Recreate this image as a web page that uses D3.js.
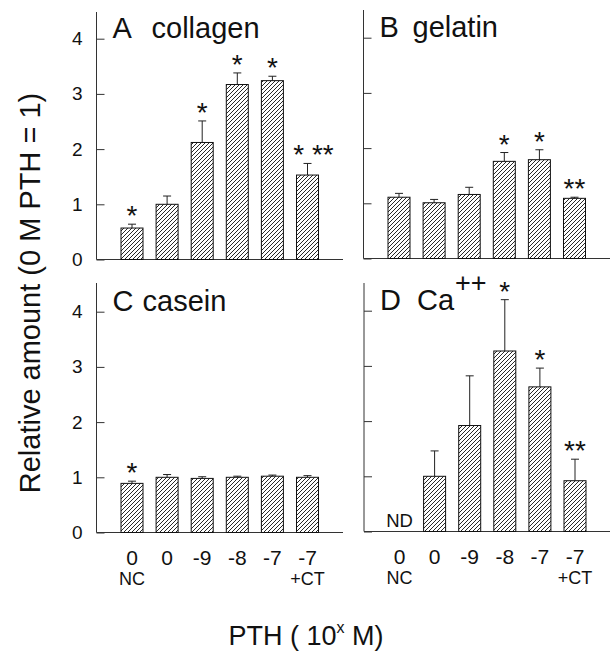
<!DOCTYPE html>
<html>
<head>
  <script src="https://cdn.jsdelivr.net/npm/d3@7"></script>
  <style>
    body { margin: 0; background: #fff; }
    text { font-family: "Liberation Sans", Arial, sans-serif; fill: #111; }
  </style>
</head>
<body>
<div id="chart"></div>
<script>
  // tick labels along the x axis (two rows)
  var tickTop = ["0", "0", "-9", "-8", "-7", "-7"];
  var tickBottom = ["NC", "", "", "", "", "+CT"];
  var groups = ["NC", "0", "-9", "-8", "-7", "CT"];

  // relative amounts (mean) and upper error (SD) per panel
  var collagen = [0.57, 1.00, 2.12, 3.17, 3.24, 1.53];
  var collagenErr = [0.07, 0.15, 0.39, 0.21, 0.08, 0.21];
  var collagenSig = ["*", "", "*", "*", "*", "* **"];

  var gelatin = [1.11, 1.01, 1.16, 1.76, 1.79, 1.09];
  var gelatinErr = [0.07, 0.06, 0.13, 0.16, 0.18, 0.02];
  var gelatinSig = ["", "", "", "*", "*", "**"];

  var casein = [0.89, 1.00, 0.98, 1.00, 1.02, 1.00];
  var caseinErr = [0.04, 0.05, 0.03, 0.02, 0.02, 0.03];
  var caseinSig = ["*", "", "", "", "", ""];

  var calcium = [null, 1.00, 1.92, 3.27, 2.62, 0.92];
  var calciumErr = [null, 0.46, 0.90, 0.93, 0.34, 0.39];
  var calciumSig = ["", "", "", "*", "*", "**"];

  var yTicks = [0, 1, 2, 3, 4];

  var svg = d3.select("#chart").append("svg")
      .attr("width", 613)
      .attr("height", 651);

  var defs = svg.append("defs");
  defs.append("pattern")
      .attr("id", "hatch")
      .attr("patternUnits", "userSpaceOnUse")
      .attr("width", 4)
      .attr("height", 4)
      .append("path")
      .attr("d", "M-1,1 l2,-2 M0,4 l4,-4 M3,5 l2,-2")
      .attr("stroke", "#111")
      .attr("stroke-width", 0.9);

  var panels = [
    {letter: "A", word: "collagen", wordDx: 39, values: collagen, err: collagenErr, sig: collagenSig,
     ax: 96.5, zero: 259.5, top: 12, right: 343, labels: true, xlabels: false},
    {letter: "B", word: "gelatin", wordDx: 33, values: gelatin, err: gelatinErr, sig: gelatinSig,
     ax: 363.5, zero: 258.5, top: 10, right: 610, labels: false, xlabels: false},
    {letter: "C", word: "casein", wordDx: 30, values: casein, err: caseinErr, sig: caseinSig,
     ax: 96.5, zero: 532.5, top: 283, right: 343, labels: true, xlabels: true},
    {letter: "D", word: "Ca", sup: "++", wordDx: 37, values: calcium, err: calciumErr, sig: calciumSig,
     ax: 364, zero: 531.5, top: 283, right: 610, labels: false, xlabels: true}
  ];

  var unit = 55.2;
  var barW = 22;

  panels.forEach(function(p) {
    var g = svg.append("g");

    var y = d3.scaleLinear()
        .domain([0, 4])
        .range([p.zero, p.zero - 4 * unit]);

    var x = d3.scalePoint()
        .domain(groups)
        .range([p.ax + 35.5, p.ax + 211]);

    // y axis, ticks pointing inward
    var yAxis = d3.axisLeft(y)
        .tickValues(yTicks)
        .tickSize(-8)
        .tickSizeOuter(0)
        .tickPadding(14)
        .tickFormat(p.labels ? d3.format("d") : "");

    var ya = g.append("g")
        .attr("transform", "translate(" + p.ax + ",0)")
        .call(yAxis);
    ya.select(".domain").remove();
    ya.selectAll(".tick line").attr("stroke", "#333");
    ya.selectAll(".tick text")
        .style("font-size", "19px")
        .style("font-family", "'Liberation Sans', Arial, sans-serif")
        .attr("fill", "#111");

    g.append("line")
        .attr("x1", p.ax).attr("x2", p.ax)
        .attr("y1", p.zero).attr("y2", p.top)
        .attr("stroke", "#333");
    g.append("line")
        .attr("x1", p.ax).attr("x2", p.right)
        .attr("y1", p.zero).attr("y2", p.zero)
        .attr("stroke", "#333");

    var rows = groups.map(function(k, i) {
      return {key: k, v: p.values[i], e: p.err[i], s: p.sig[i]};
    });
    var present = rows.filter(function(d) { return d.v != null; });

    // error bars (upper only)
    g.selectAll(".err").data(present).enter().append("path")
        .attr("d", function(d) {
          var cx = x(d.key), t = y(d.v + d.e);
          return "M" + cx + "," + y(d.v) + "V" + t + "M" + (cx - 4) + "," + t + "H" + (cx + 4);
        })
        .attr("fill", "none")
        .attr("stroke", "#222")
        .attr("stroke-width", 1);

    g.selectAll(".bar").data(present).enter().append("rect")
        .attr("x", function(d) { return x(d.key) - barW / 2; })
        .attr("y", function(d) { return y(d.v); })
        .attr("width", barW)
        .attr("height", function(d) { return p.zero - y(d.v); })
        .attr("fill", "url(#hatch)")
        .attr("stroke", "#111")
        .attr("stroke-width", 1);

    // significance marks
    g.selectAll(".sig").data(present.filter(function(d) { return d.s; })).enter().append("text")
        .attr("x", function(d) { return x(d.key) + (d.s.length > 2 ? 6 : 0); })
        .attr("y", function(d) { return y(d.v + d.e) + 1; })
        .attr("text-anchor", "middle")
        .style("font-size", "28px")
        .text(function(d) { return d.s; });

    // not determined
    rows.filter(function(d) { return d.v == null; }).forEach(function(d) {
      g.append("text")
          .attr("x", x(d.key))
          .attr("y", p.zero - 5)
          .attr("text-anchor", "middle")
          .style("font-size", "18.5px")
          .text("ND");
    });

    // panel title
    var title = g.append("text")
        .attr("x", p.ax + 16)
        .attr("y", p.zero - 222)
        .style("font-size", "29px");
    title.append("tspan").text(p.letter);
    title.append("tspan").attr("x", p.ax + 16 + p.wordDx).text(p.word);
    if (p.sup) {
      title.append("tspan").attr("dy", -18).attr("dx", 1).style("font-size", "27px").text(p.sup);
    }

    if (p.xlabels) {
      g.selectAll(".xt").data(groups).enter().append("text")
          .attr("x", function(d) { return x(d); })
          .attr("y", p.zero + 32)
          .attr("text-anchor", "middle")
          .style("font-size", "21px")
          .text(function(d, i) { return tickTop[i]; });
      g.selectAll(".xb").data(groups).enter().append("text")
          .attr("x", function(d) { return x(d); })
          .attr("y", p.zero + 52)
          .attr("text-anchor", "middle")
          .style("font-size", "18px")
          .text(function(d, i) { return tickBottom[i]; });
    }
  });

  svg.append("text")
      .attr("transform", "translate(40,293) rotate(-90)")
      .attr("text-anchor", "middle")
      .style("font-size", "29px")
      .text("Relative amount (0 M PTH = 1)");

  var xt = svg.append("text")
      .attr("x", 306)
      .attr("y", 645)
      .attr("text-anchor", "middle")
      .style("font-size", "27px");
  xt.append("tspan").text("PTH ( 10");
  xt.append("tspan").attr("dy", -12).style("font-size", "16px").text("x");
  xt.append("tspan").attr("dy", 12).text(" M)");
</script>
</body>
</html>
